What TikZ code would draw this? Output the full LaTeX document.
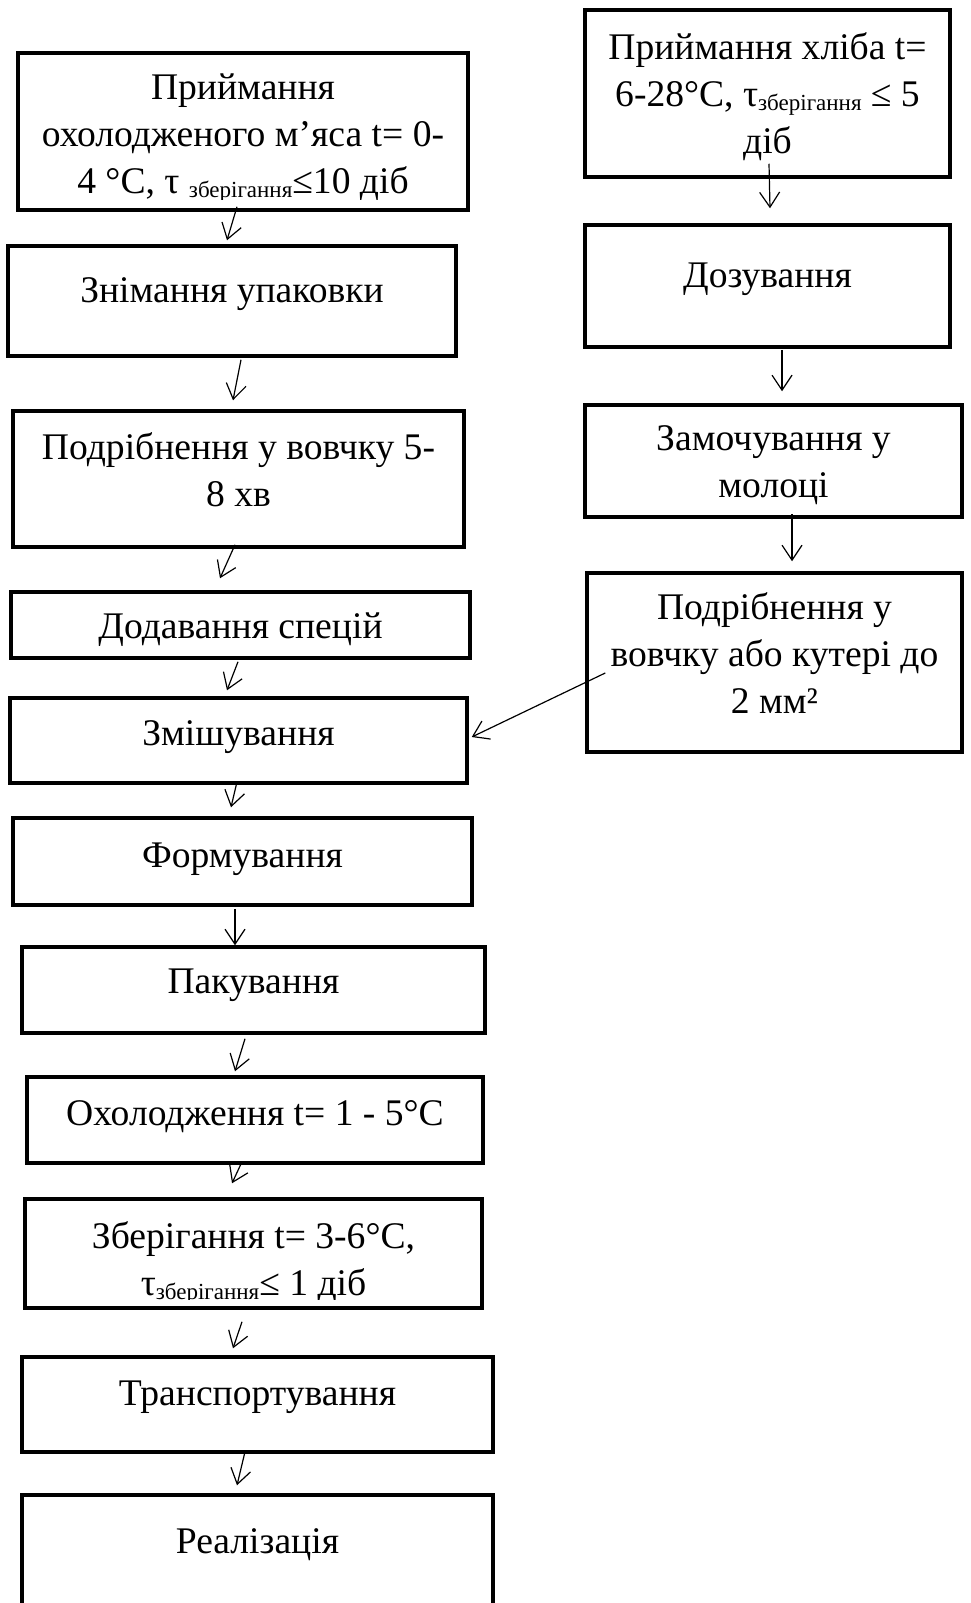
\documentclass[tikz,border=0pt]{standalone}
\usepackage{fontspec}
\setmainfont{Liberation Serif}
\usetikzlibrary{arrows.meta,calc}
\newcommand{\zsub}{\raisebox{-4pt}{\fontsize{23}{23}\selectfont зберігання}}
\begin{document}
\begin{tikzpicture}[x=1pt,y=-1pt,
  box/.style={draw, line width=3.5pt, inner sep=0pt},
  txt/.style={font=\fontsize{37.6}{47}\selectfont, align=center, inner sep=0pt, anchor=base},
  arr/.style={line width=1.2pt, -{Straight Barb[length=15pt,width=20pt,line width=1.2pt]}}]
\useasboundingbox (0,0) rectangle (970,1603);
\fill[white] (0,0) rectangle (970,1603);
% boxes
\node[box, minimum width=450pt, minimum height=157pt] (L1) at (243,131.5) {};
\node[box, minimum width=448pt, minimum height=110pt] (L2) at (232,301) {};
\node[box, minimum width=451pt, minimum height=136pt] (L3) at (238.5,479) {};
\node[box, minimum width=459pt, minimum height=66pt] (L4) at (240.5,625) {};
\node[box, minimum width=457pt, minimum height=85pt] (L5) at (238.5,740.5) {};
\node[box, minimum width=459pt, minimum height=87pt] (L6) at (242.5,861.5) {};
\node[box, minimum width=463pt, minimum height=86pt] (L7) at (253.5,990) {};
\node[box, minimum width=456pt, minimum height=86pt] (L8) at (255,1120) {};
\node[box, minimum width=457pt, minimum height=109pt] (L9) at (253.5,1253.5) {};
\node[box, minimum width=471pt, minimum height=95pt] (L10) at (257.5,1404.5) {};
\node[box, minimum width=471pt, minimum height=145pt] (L11) at (257.5,1567.5) {};
\node[box, minimum width=365pt, minimum height=167pt] (R1) at (767.5,93.5) {};
\node[box, minimum width=365pt, minimum height=122pt] (R2) at (767.5,286) {};
\node[box, minimum width=377pt, minimum height=112pt] (R3) at (773.5,461) {};
\node[box, minimum width=375pt, minimum height=179pt] (R4) at (774.5,662.5) {};
% texts (anchor base = baseline of last line)
\begin{scope}
\clip (18,53) rectangle (468,199);
\node[txt] (tL1) at (243,193) {Приймання\\охолодженого м’яса t= 0-\\4 °C, τ \zsub≤10 діб};
\end{scope}
\node[txt] (tL2) at (232,302) {Знімання упаковки};
\node[txt] (tL3) at (238.5,506) {Подрібнення у вовчку 5-\\8 хв};
\node[txt] (tL4) at (240.5,638) {Додавання спецій};
\node[txt] (tL5) at (238.5,745) {Змішування};
\node[txt] (tL6) at (242.5,867) {Формування};
\node[txt] (tL7) at (253.5,993) {Пакування};
\node[txt] (tL8) at (255,1125) {Охолодження t= 1 - 5°C};
\begin{scope}
\clip (25,1199) rectangle (482,1299);
\node[txt] (tL9) at (253.5,1295) {Зберігання t= 3-6°C,\\τ\zsub≤ 1 діб};
\end{scope}
\node[txt] (tL10) at (257.5,1405) {Транспортування};
\node[txt] (tL11) at (257.5,1553) {Реалізація};
\node[txt] (tR1) at (767.5,153) {Приймання хліба t=\\6-28°C, τ\zsub\ ≤ 5\\діб};
\node[txt] (tR2) at (767.5,287) {Дозування};
\node[txt] (tR3) at (773.5,497) {Замочування у\\молоці};
\node[txt] (tR4) at (774.5,713) {Подрібнення у\\вовчку або кутері до\\2 мм²};
% arrows
\draw[arr] ($(L1.south)+(-6,-5)$) -- ($(L2.north)+(-5,-4)$);
\draw[arr] ($(L2.south)+(9,2)$) -- ($(L3.north)+(-5.5,-9)$);
\draw[arr] ($(L3.south)+(-3.5,-4)$) -- ($(L4.north)+(-20.5,-12)$);
\draw[arr] ($(L4.south)+(-2.5,2)$) -- ($(L5.north)+(-11.5,-6)$);
\draw[arr] ($(L5.south)+(-1.5,-3)$) -- ($(L6.north)+(-11.5,-9)$);
\draw[arr] ($(L6.south)+(-7.5,2)$) -- ($(L7.north)+(-18.5,0)$);
\draw[arr] ($(L7.south)+(-8.5,4)$) -- ($(L8.north)+(-20,-4)$);
\draw[arr] ($(L8.south)+(-13,-3)$) -- ($(L9.north)+(-21.5,-14)$);
\draw[arr] ($(L9.south)+(-11.5,12)$) -- ($(L10.north)+(-24.5,-7)$);
\draw[arr] ($(L10.south)+(-12.5,-2)$) -- ($(L11.north)+(-20.5,-8)$);
\draw[arr] ($(R1.south)+(1.5,-15)$) -- ($(R2.north)+(2.5,-15)$);
\draw[arr] ($(R2.south)+(14.5,1)$) -- ($(R3.north)+(8.5,-12)$);
\draw[arr] ($(R3.south)+(18.5,-5)$) -- ($(R4.north)+(17.5,-10)$);
\draw[arr] ($(R4.west)+(20,10.5)$) -- ($(L5.east)+(3,-3.5)$);
\end{tikzpicture}
\end{document}
